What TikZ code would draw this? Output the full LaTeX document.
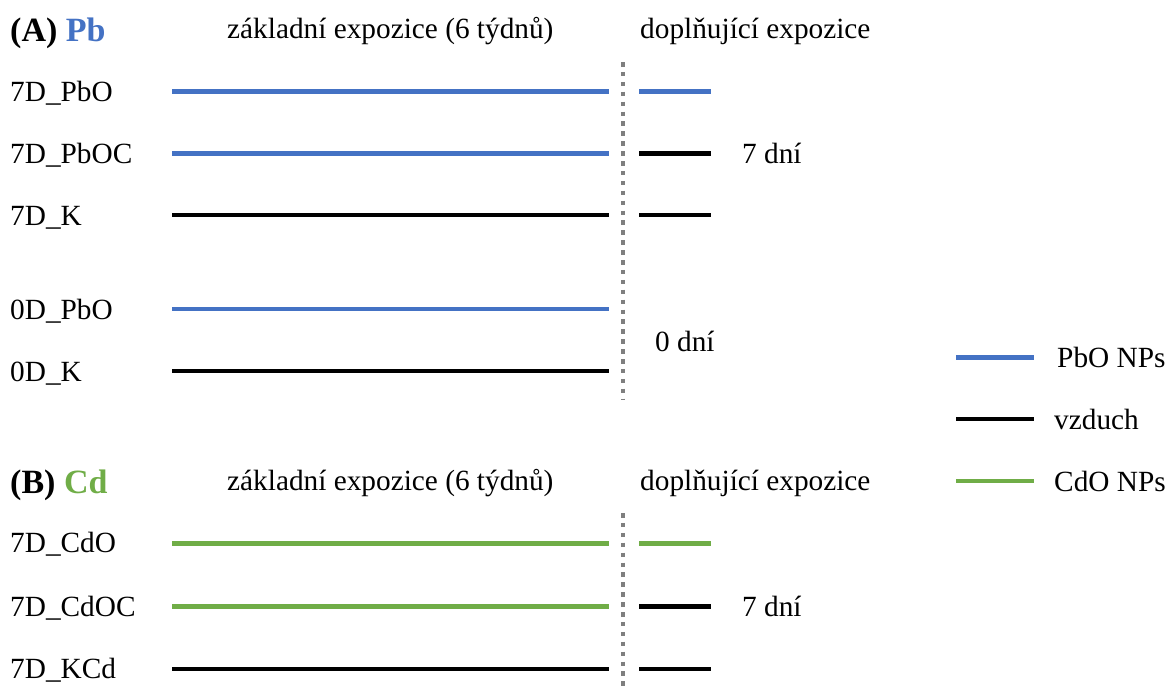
\documentclass[tikz,border=0pt]{standalone}
\usepackage{fontspec}
\setmainfont{Liberation Serif}
\definecolor{pbblue}{HTML}{4472C4}
\definecolor{cdgreen}{HTML}{70AD47}
\definecolor{sepgray}{HTML}{7F7F7F}
\begin{document}
\begin{tikzpicture}[x=1pt,y=-1pt,
  txt/.style={font=\fontsize{29.3}{33}\selectfont, inner sep=0pt, anchor=base west},
  head/.style={font=\fontsize{34}{38}\selectfont\bfseries, inner sep=0pt, anchor=base west},
  bar/.style={line width=4.5pt},
  sepline/.style={sepgray, line width=4.5pt, dash pattern=on 4.5pt off 5.4pt}]
\useasboundingbox (0,0) rectangle (1169,688);

% ---------- (A) Pb ----------
\node[head] (hA) at (10,41) {(A) \textcolor{pbblue}{Pb}};
\node[txt] (zA) at (227,38) {základní expozice (6 týdnů)};
\node[txt] (dA) at (640,38) {doplňující expozice};

\node[txt] (l1) at (10,101.5) {7D\_PbO};
\node[txt] (l2) at (10,163.5) {7D\_PbOC};
\node[txt] (l3) at (10,225) {7D\_K};
\node[txt] (l4) at (10,319) {0D\_PbO};
\node[txt] (l5) at (10,381) {0D\_K};

\coordinate (a1s) at (172,91.5);  \coordinate (a1e) at (609,91.5);
\coordinate (a2s) at (172,153.5); \coordinate (a2e) at (609,153.5);
\coordinate (a3s) at (172,215);   \coordinate (a3e) at (609,215);
\coordinate (a4s) at (172,309);   \coordinate (a4e) at (609,309);
\coordinate (a5s) at (172,371);   \coordinate (a5e) at (609,371);
\draw[bar,pbblue] (a1s) -- (a1e);
\draw[bar,pbblue] (a2s) -- (a2e);
\draw[bar,black]  (a3s) -- (a3e);
\draw[bar,pbblue] (a4s) -- (a4e);
\draw[bar,black]  (a5s) -- (a5e);

\coordinate (r1s) at (639,91.5);  \coordinate (r1e) at (711,91.5);
\coordinate (r2s) at (639,153.5); \coordinate (r2e) at (711,153.5);
\coordinate (r3s) at (639,215);   \coordinate (r3e) at (711,215);
\draw[bar,pbblue] (r1s) -- (r1e);
\draw[bar,black]  (r2s) -- (r2e);
\draw[bar,black]  (r3s) -- (r3e);

\node[txt] (d7A) at (742,163.5) {7 dní};
\node[txt] (d0A) at (655,351) {0 dní};

\coordinate (sAt) at (623,62);
\coordinate (sAb) at (623,400);
\draw[sepline] (sAt) -- (sAb);

% ---------- (B) Cd ----------
\node[head] (hB) at (10,493) {(B) \textcolor{cdgreen}{Cd}};
\node[txt] (zB) at (227,490) {základní expozice (6 týdnů)};
\node[txt] (dB) at (640,490) {doplňující expozice};

\node[txt] (m1) at (10,552.5) {7D\_CdO};
\node[txt] (m2) at (10,616.5) {7D\_CdOC};
\node[txt] (m3) at (10,678) {7D\_KCd};

\coordinate (b1s) at (172,543.5); \coordinate (b1e) at (609,543.5);
\coordinate (b2s) at (172,606.5); \coordinate (b2e) at (609,606.5);
\coordinate (b3s) at (172,669);   \coordinate (b3e) at (609,669);
\draw[bar,cdgreen] (b1s) -- (b1e);
\draw[bar,cdgreen] (b2s) -- (b2e);
\draw[bar,black]   (b3s) -- (b3e);

\coordinate (q1s) at (639,543.5); \coordinate (q1e) at (711,543.5);
\coordinate (q2s) at (639,606.5); \coordinate (q2e) at (711,606.5);
\coordinate (q3s) at (639,669);   \coordinate (q3e) at (711,669);
\draw[bar,cdgreen] (q1s) -- (q1e);
\draw[bar,black]   (q2s) -- (q2e);
\draw[bar,black]   (q3s) -- (q3e);

\node[txt] (d7B) at (742,616.5) {7 dní};

\coordinate (sBt) at (623,513);
\coordinate (sBb) at (623,688);
\draw[sepline] (sBt) -- (sBb);

% ---------- legend ----------
\coordinate (g1s) at (956,357.5); \coordinate (g1e) at (1034,357.5);
\coordinate (g2s) at (956,419);   \coordinate (g2e) at (1034,419);
\coordinate (g3s) at (956,481);   \coordinate (g3e) at (1034,481);
\draw[bar,pbblue]  (g1s) -- (g1e);
\draw[bar,black]   (g2s) -- (g2e);
\draw[bar,cdgreen] (g3s) -- (g3e);
\node[txt] (t1) at (1057,367.5) {PbO NPs};
\node[txt] (t2) at (1054,429) {vzduch};
\node[txt] (t3) at (1054,491) {CdO NPs};
\end{tikzpicture}
\end{document}
